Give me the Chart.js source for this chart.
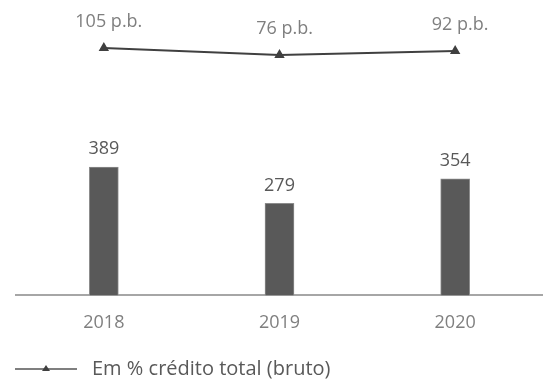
<!DOCTYPE html>
<html>
<head>
<meta charset="utf-8">
<script src="https://cdn.jsdelivr.net/npm/chart.js@4/dist/chart.umd.min.js"></script>
<style>
  html, body { margin: 0; padding: 0; background: #fff; overflow: hidden; }
  #wrap { width: 543px; height: 379px; position: relative; }
  canvas { display: block; }
</style>
</head>
<body>
<div id="wrap"><canvas id="chart"></canvas></div>
<script>
// chart data
const years = ["2018", "2019", "2020"];
const creditValues = [389, 279, 354];
const creditShare = [105, 76, 92];   // p.b.
const legendLabel = "Em % crédito total (bruto)";

const FONT = "'Open Sans', sans-serif";

// draws the value labels and the legend line
const labelsPlugin = {
  id: "labels",
  afterDatasetsDraw(chart) {
    const ctx = chart.ctx;
    ctx.save();
    ctx.textAlign = "center";
    ctx.textBaseline = "middle";

    // bar values
    ctx.font = "18px " + FONT;
    ctx.fillStyle = "#595959";
    chart.getDatasetMeta(1).data.forEach((bar, i) => {
      ctx.fillText(creditValues[i], bar.x, bar.y - 18);
    });

    // line values
    ctx.fillStyle = "#7f7f7f";
    chart.getDatasetMeta(0).data.forEach((pt, i) => {
      ctx.fillText(creditShare[i] + " p.b.", pt.x + 5, pt.y - 26);
    });

    // legend
    const ly = 369;
    ctx.strokeStyle = "#7f7f7f";
    ctx.lineWidth = 2;
    ctx.beginPath();
    ctx.moveTo(15, ly);
    ctx.lineTo(77, ly);
    ctx.stroke();
    ctx.fillStyle = "#404040";
    ctx.beginPath();
    ctx.moveTo(42, ly + 2);
    ctx.lineTo(46, ly - 4);
    ctx.lineTo(50, ly + 2);
    ctx.closePath();
    ctx.fill();
    ctx.textAlign = "left";
    ctx.fillStyle = "#595959";
    ctx.font = "20px " + FONT;
    ctx.fillText(legendLabel, 92, ly);
    ctx.restore();
  }
};

new Chart(document.getElementById("chart"), {
  data: {
    labels: years,
    datasets: [
      {
        type: "line",
        label: legendLabel,
        data: creditShare,
        yAxisID: "y1",
        borderColor: "#404040",
        borderWidth: 2,
        pointStyle: "triangle",
        pointRadius: 4,
        pointBackgroundColor: "#404040",
        pointBorderColor: "#404040",
        tension: 0
      },
      {
        type: "bar",
        label: "Crédito",
        data: creditValues,
        yAxisID: "y",
        backgroundColor: "#595959",
        borderColor: "#8c8c8c",
        borderWidth: 1,
        barThickness: 29
      }
    ]
  },
  options: {
    responsive: true,
    maintainAspectRatio: false,
    animation: false,
    layout: { autoPadding: false, padding: { top: 5, left: 16, right: 0, bottom: 28 } },
    plugins: {
      legend: { display: false },
      tooltip: { enabled: false }
    },
    scales: {
      x: {
        grid: { display: false, drawTicks: false },
        border: { display: true, color: "#a6a6a6", width: 2 },
        ticks: { color: "#7f7f7f", font: { family: FONT, size: 18 }, padding: 17 }
      },
      y: {
        display: false,
        min: 0,
        max: 881
      },
      y1: {
        display: false,
        min: -920,
        max: 283
      }
    }
  },
  plugins: [labelsPlugin]
});
</script>
</body>
</html>
